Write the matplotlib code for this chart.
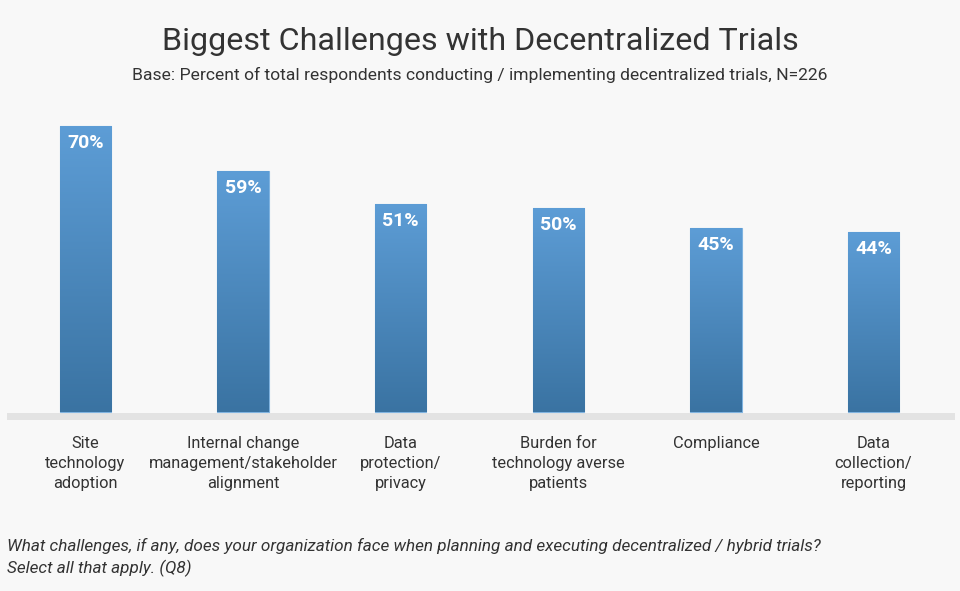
import matplotlib
matplotlib.use("Agg")
import matplotlib.pyplot as plt
import numpy as np
from matplotlib.colors import LinearSegmentedColormap

categories = ["Site\ntechnology\nadoption",
              "Internal change\nmanagement/stakeholder\nalignment",
              "Data\nprotection/\nprivacy",
              "Burden for\ntechnology averse\npatients",
              "Compliance",
              "Data\ncollection/\nreporting"]
values = [70, 59, 51, 50, 45, 44]
value_labels = ["70%", "59%", "51%", "50%", "45%", "44%"]

title = "Biggest Challenges with Decentralized Trials"
subtitle = "Base: Percent of total respondents conducting / implementing decentralized trials, N=226"
footnote = ("What challenges, if any, does your organization face when planning and executing decentralized / hybrid trials?\n"
            "Select all that apply. (Q8)")

plt.rcParams['font.family'] = ['Roboto', 'DejaVu Sans']
W, H = 960, 591
bg = "#f8f8f8"
fig = plt.figure(figsize=(W / 100, H / 100), dpi=100, facecolor=bg)

# axes in pixel coords
ax_left, ax_right = 7, 955
ax_top, ax_bot = 100, 420
ax = fig.add_axes([ax_left / W, 1 - ax_bot / H, (ax_right - ax_left) / W, (ax_bot - ax_top) / H])
ax.set_facecolor(bg)
for s in ax.spines.values():
    s.set_visible(False)
ax.set_xticks([])
ax.set_yticks([])

pxper = 4.08
zero_px = 412
spacing = 157.6
xlim = (-(85.5 - ax_left) / spacing, 5 + (ax_right - 873.5) / spacing)
ylim = (-(ax_bot - zero_px) / pxper, (zero_px - ax_top) / pxper)

ax.axhspan(ylim[0], -0.25, color="#e3e3e3", zorder=1, lw=0)

cmap = LinearSegmentedColormap.from_list("g", ["#3a73a2", "#5d9dd6"])
x = np.arange(len(values))
width = 0.325
bars = ax.bar(x, values, width=width, color="#4a88c0", edgecolor="#7fb3e0",
              linewidth=0.8, zorder=2)
grad = np.linspace(0, 1, 256).reshape(-1, 1)
for b in bars:
    x0, y0 = b.get_x(), b.get_y()
    w, h = b.get_width(), b.get_height()
    im = ax.imshow(grad, extent=[x0, x0 + w, y0, y0 + h], origin="lower",
                   cmap=cmap, aspect="auto", zorder=2.5)
    im.set_clip_path(b)
for xi, v, lab in zip(x, values, value_labels):
    ax.text(xi, v - 17 / pxper, lab, ha="center", va="center", color="white",
            fontsize=14, fontweight="bold", zorder=3)
ax.set_xlim(*xlim)
ax.set_ylim(*ylim)

# category labels
for xi, c in zip(x, categories):
    ax.text(xi, -(436 - zero_px) / pxper, c, ha="center", va="top", color="#333333",
            fontsize=11.8, linespacing=1.41, zorder=3, clip_on=False)

fig.text(0.5, 1 - 41 / H, title, ha="center", va="center", fontsize=23.2, color="#333333")
fig.text(0.5, 1 - 75 / H, subtitle, ha="center", va="center", fontsize=12.6, color="#333333")
fig.text(7 / W, 1 - 538 / H, footnote, ha="left", va="top", fontsize=12.3, style="italic",
         color="#333333", linespacing=1.4)

fig.savefig("out.png", dpi=100, facecolor=bg)
